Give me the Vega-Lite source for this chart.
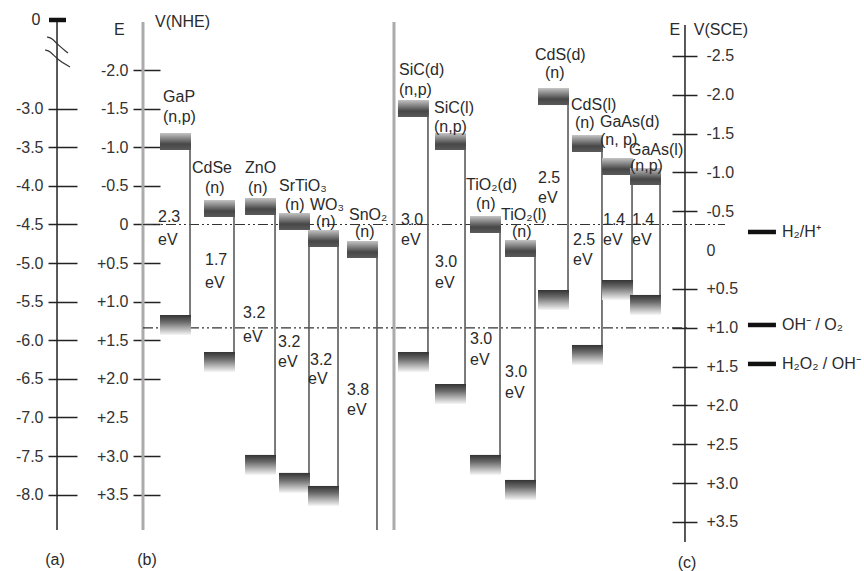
{
  "$schema": "https://vega.github.io/schema/vega-lite/v6.json",
  "width": 864,
  "height": 571,
  "autosize": {"type": "none"},
  "padding": 0,
  "background": "white",
  "config": {
    "view": {"stroke": null},
    "font": "Liberation Sans",
    "axis": {"grid": false},
    "text": {"font": "Liberation Sans", "fontSize": 16, "fill": "#2a2a2a"}
  },
  "datasets": {
    "semis": [
      {"name": "GaP", "x": 18.52, "cb": -0.965, "vb": 1.173},
      {"name": "CdSe", "x": 23.61, "cb": -0.097, "vb": 1.652},
      {"name": "ZnO", "x": 28.36, "cb": -0.123, "vb": 2.986},
      {"name": "SrTiO3", "x": 32.29, "cb": 0.071, "vb": 3.219},
      {"name": "WO3", "x": 35.65, "cb": 0.292, "vb": 3.388},
      {"name": "SnO2", "x": 40.16, "cb": 0.434, "vb": 3.958},
      {"name": "SiC(d)", "x": 46.06, "cb": -1.393, "vb": 1.652},
      {"name": "SiC(l)", "x": 50.35, "cb": -0.965, "vb": 2.067},
      {"name": "TiO2(d)", "x": 54.40, "cb": 0.110, "vb": 2.986},
      {"name": "TiO2(l)", "x": 58.45, "cb": 0.421, "vb": 3.310},
      {"name": "CdS(d)", "x": 62.27, "cb": -1.548, "vb": 0.849},
      {"name": "CdS(l)", "x": 66.20, "cb": -0.939, "vb": 1.561},
      {"name": "GaAs(d)", "x": 69.68, "cb": -0.641, "vb": 0.719},
      {"name": "GaAs(l)", "x": 72.92, "cb": -0.512, "vb": 0.913}
    ],
    "labelsL": [
      {"t": "GaP", "x": 18.87, "y": -1.652}, {"t": "(n,p)", "x": 18.87, "y": -1.393},
      {"t": "CdSe", "x": 22.22, "y": -0.732}, {"t": "(n)", "x": 23.73, "y": -0.473},
      {"t": "ZnO", "x": 28.36, "y": -0.732}, {"t": "(n)", "x": 28.70, "y": -0.473},
      {"t": "SrTiO₃", "x": 32.29, "y": -0.499}, {"t": "(n)", "x": 32.99, "y": -0.253},
      {"t": "WO₃", "x": 35.88, "y": -0.253}, {"t": "(n)", "x": 36.57, "y": -0.032},
      {"t": "SnO₂", "x": 40.39, "y": -0.123}, {"t": "(n)", "x": 41.09, "y": 0.097},
      {"t": "SiC(d)", "x": 46.18, "y": -2.002}, {"t": "(n,p)", "x": 46.18, "y": -1.743},
      {"t": "SiC(l)", "x": 50.23, "y": -1.510}, {"t": "(n,p)", "x": 50.23, "y": -1.263},
      {"t": "TiO₂(d)", "x": 53.94, "y": -0.512}, {"t": "(n)", "x": 55.09, "y": -0.266},
      {"t": "TiO₂(l)", "x": 57.99, "y": -0.123}, {"t": "(n)", "x": 59.26, "y": 0.097},
      {"t": "CdS(d)", "x": 61.92, "y": -2.196}, {"t": "(n)", "x": 63.08, "y": -1.963},
      {"t": "CdS(l)", "x": 66.09, "y": -1.548}, {"t": "(n)", "x": 66.55, "y": -1.315},
      {"t": "GaAs(d)", "x": 69.44, "y": -1.328}, {"t": "(n, p)", "x": 69.44, "y": -1.095},
      {"t": "GaAs(l)", "x": 72.80, "y": -0.965}, {"t": "(n,p)", "x": 72.92, "y": -0.758},
      {"t": "2.3", "x": 18.29, "y": -0.097}, {"t": "eV", "x": 18.29, "y": 0.201},
      {"t": "1.7", "x": 23.73, "y": 0.460}, {"t": "eV", "x": 23.73, "y": 0.758},
      {"t": "3.2", "x": 28.13, "y": 1.147}, {"t": "eV", "x": 28.13, "y": 1.458},
      {"t": "3.2", "x": 32.18, "y": 1.522}, {"t": "eV", "x": 32.18, "y": 1.782},
      {"t": "3.2", "x": 35.88, "y": 1.756}, {"t": "eV", "x": 35.65, "y": 2.002},
      {"t": "3.8", "x": 40.16, "y": 2.145}, {"t": "eV", "x": 40.16, "y": 2.404},
      {"t": "3.0", "x": 46.41, "y": -0.058}, {"t": "eV", "x": 46.41, "y": 0.201},
      {"t": "3.0", "x": 50.35, "y": 0.486}, {"t": "eV", "x": 50.35, "y": 0.758},
      {"t": "3.0", "x": 54.40, "y": 1.484}, {"t": "eV", "x": 54.40, "y": 1.756},
      {"t": "3.0", "x": 58.45, "y": 1.912}, {"t": "eV", "x": 58.45, "y": 2.183},
      {"t": "2.5", "x": 62.27, "y": -0.602}, {"t": "eV", "x": 62.27, "y": -0.343},
      {"t": "2.5", "x": 66.32, "y": 0.201}, {"t": "eV", "x": 66.32, "y": 0.460},
      {"t": "1.4", "x": 69.79, "y": -0.058}, {"t": "eV", "x": 69.79, "y": 0.201},
      {"t": "1.4", "x": 73.15, "y": -0.058}, {"t": "eV", "x": 73.15, "y": 0.201},
      {"t": "E", "x": 13.20, "y": -2.520}, {"t": "V(NHE)", "x": 17.94, "y": -2.624},
      {"t": "E", "x": 77.50, "y": -2.520}, {"t": "V(SCE)", "x": 80.30, "y": -2.520},
      {"t": "H₂/H⁺", "x": 90.51, "y": 0.097},
      {"t": "OH⁻ / O₂", "x": 90.51, "y": 1.302},
      {"t": "H₂O₂ / OH⁻", "x": 90.51, "y": 1.807}
    ],
    "labelsC": [
      {"t": "(a)", "x": 6.37, "y": 4.347},
      {"t": "(b)", "x": 17.01, "y": 4.347},
      {"t": "(c)", "x": 79.51, "y": 4.386},
      {"t": "0", "x": 4.17, "y": -2.650}
    ]
  },
  "layer": [
    {
      "data": {"values": [{"x": 6.60, "y1": -2.650, "y2": 3.958}]},
      "mark": {"type": "rule", "color": "#222", "strokeWidth": 1.5},
      "encoding": {
        "x": {"field": "x", "type": "quantitative", "scale": {"domain": [0, 100], "nice": false, "zero": false}, "axis": null},
        "y": {"field": "y1", "type": "quantitative",
          "scale": {"domain": [-2.909, 4.49], "reverse": true, "nice": false, "zero": false},
          "axis": {"orient": "left", "offset": -77, "values": [-1.5, -1, -0.5, 0, 0.5, 1, 1.5, 2, 2.5, 3, 3.5],
            "tickSize": 29, "tickWidth": 1.5, "tickColor": "#222", "domain": false, "grid": false, "title": null,
            "labelPadding": 5, "labelFontSize": 16, "labelColor": "#333", "labelFont": "Liberation Sans",
            "labelOverlap": false, "labelFlush": false,
            "labelExpr": "'-' + format(4.5 + datum.value, '.1f')"}},
        "y2": {"field": "y2"}
      }
    },
    {
      "data": {"values": [{"x": 16.55, "y1": -2.624, "y2": 3.958}, {"x": 45.60, "y1": -2.624, "y2": 3.958}]},
      "mark": {"type": "rule", "color": "#ababab", "strokeWidth": 3},
      "encoding": {
        "x": {"field": "x", "type": "quantitative", "scale": {"domain": [0, 100], "nice": false, "zero": false}, "axis": null},
        "y": {"field": "y1", "type": "quantitative",
          "scale": {"domain": [-2.909, 4.49], "reverse": true, "nice": false, "zero": false},
          "axis": {"orient": "left", "offset": -160, "values": [-2, -1.5, -1, -0.5, 0, 0.5, 1, 1.5, 2, 2.5, 3, 3.5],
            "tickSize": 27, "tickWidth": 1.5,
            "tickColor": {"condition": {"test": "datum.value == 2.5", "value": "transparent"}, "value": "#222"},
            "domain": false, "grid": false, "title": null,
            "labelPadding": 5, "labelFontSize": 16, "labelColor": "#333", "labelFont": "Liberation Sans",
            "labelOverlap": false, "labelFlush": false,
            "labelExpr": "datum.value == 0 ? '0' : (datum.value > 0 ? '+' : '-') + format(abs(datum.value), '.1f')"}},
        "y2": {"field": "y2"}
      }
    },
    {
      "data": {"values": [{"x": 79.28, "y1": -2.899, "y2": 3.757}]},
      "mark": {"type": "rule", "color": "#222", "strokeWidth": 1.5},
      "encoding": {
        "x": {"field": "x", "type": "quantitative", "scale": {"domain": [0, 100], "nice": false, "zero": false}, "axis": null},
        "y": {"field": "y1", "type": "quantitative",
          "scale": {"domain": [-3.221, 4.131], "reverse": true, "nice": false, "zero": false},
          "axis": {"orient": "right", "offset": -192, "values": [-2.5, -2, -1.5, -1, -0.5, 0, 0.5, 1, 1.5, 2, 2.5, 3, 3.5],
            "tickSize": 25, "tickWidth": 1.5,
            "tickColor": {"condition": {"test": "datum.value == 0", "value": "transparent"}, "value": "#222"},
            "domain": false, "grid": false, "title": null,
            "labelPadding": 9, "labelFontSize": 16, "labelColor": "#333", "labelFont": "Liberation Sans",
            "labelOverlap": false, "labelFlush": false,
            "labelExpr": "datum.value == 0 ? '0' : (datum.value > 0 ? '+' : '-') + format(abs(datum.value), '.1f')"}},
        "y2": {"field": "y2"}
      }
    },
    {
      "data": {"values": [{"x": 16.55, "x2": 83.91, "y": 0}, {"x": 16.55, "x2": 79.86, "y": 1.34}]},
      "mark": {"type": "rule", "color": "#333", "strokeWidth": 1.2, "strokeDash": [10, 3, 2, 3, 2, 3]},
      "encoding": {
        "x": {"field": "x", "type": "quantitative", "scale": {"domain": [0, 100], "nice": false, "zero": false}, "axis": null},
        "x2": {"field": "x2"},
        "y": {"field": "y", "type": "quantitative", "scale": {"domain": [-2.909, 4.49], "reverse": true, "nice": false, "zero": false}, "axis": null}
      }
    },
    {
      "data": {"name": "semis"},
      "mark": {"type": "rule", "color": "#5a5a5a", "strokeWidth": 1.6, "xOffset": 30},
      "encoding": {
        "x": {"field": "x", "type": "quantitative", "scale": {"domain": [0, 100], "nice": false, "zero": false}, "axis": null},
        "y": {"field": "cb", "type": "quantitative", "scale": {"domain": [-2.909, 4.49], "reverse": true, "nice": false, "zero": false}, "axis": null},
        "y2": {"field": "vb"}
      }
    },
    {
      "data": {"name": "semis"},
      "mark": {"type": "rect", "x2Offset": 31, "y2Offset": -17,
        "fill": {"gradient": "linear", "x1": 0, "y1": 0, "x2": 0, "y2": 1,
          "stops": [{"offset": 0, "color": "#c4c4c4"}, {"offset": 0.65, "color": "#474747"}, {"offset": 1, "color": "#5a5a5a"}]}},
      "encoding": {
        "x": {"field": "x", "type": "quantitative", "scale": {"domain": [0, 100], "nice": false, "zero": false}, "axis": null},
        "x2": {"field": "x"},
        "y": {"field": "cb", "type": "quantitative", "scale": {"domain": [-2.909, 4.49], "reverse": true, "nice": false, "zero": false}, "axis": null},
        "y2": {"field": "cb"}
      }
    },
    {
      "data": {"name": "semis"},
      "transform": [{"filter": "datum.vb < 3.9"}],
      "mark": {"type": "rect", "x2Offset": 31, "y2Offset": 20,
        "fill": {"gradient": "linear", "x1": 0, "y1": 0, "x2": 0, "y2": 1,
          "stops": [{"offset": 0, "color": "#333333"}, {"offset": 0.35, "color": "#6a6a6a"}, {"offset": 1, "color": "#f6f6f6"}]}},
      "encoding": {
        "x": {"field": "x", "type": "quantitative", "scale": {"domain": [0, 100], "nice": false, "zero": false}, "axis": null},
        "x2": {"field": "x"},
        "y": {"field": "vb", "type": "quantitative", "scale": {"domain": [-2.909, 4.49], "reverse": true, "nice": false, "zero": false}, "axis": null},
        "y2": {"field": "vb"}
      }
    },
    {
      "data": {"values": [
        {"x": 86.57, "x2": 89.81, "y": 0.097},
        {"x": 86.57, "x2": 89.81, "y": 1.302},
        {"x": 86.57, "x2": 89.81, "y": 1.807},
        {"x": 5.67, "x2": 7.64, "y": -2.650}
      ]},
      "mark": {"type": "rule", "color": "#111", "strokeWidth": 4.5},
      "encoding": {
        "x": {"field": "x", "type": "quantitative", "scale": {"domain": [0, 100], "nice": false, "zero": false}, "axis": null},
        "x2": {"field": "x2"},
        "y": {"field": "y", "type": "quantitative", "scale": {"domain": [-2.909, 4.49], "reverse": true, "nice": false, "zero": false}, "axis": null}
      }
    },
    {
      "data": {"values": [
        {"s": 1, "i": 1, "x": 5.44, "y": -2.429}, {"s": 1, "i": 2, "x": 6.02, "y": -2.416}, {"s": 1, "i": 3, "x": 6.71, "y": -2.326}, {"s": 1, "i": 4, "x": 7.87, "y": -2.222},
        {"s": 2, "i": 1, "x": 5.21, "y": -2.261}, {"s": 2, "i": 2, "x": 5.79, "y": -2.248}, {"s": 2, "i": 3, "x": 6.71, "y": -2.131}, {"s": 2, "i": 4, "x": 8.10, "y": -2.041}
      ]},
      "mark": {"type": "line", "color": "#333", "strokeWidth": 1.2, "interpolate": "basis"},
      "encoding": {
        "x": {"field": "x", "type": "quantitative", "scale": {"domain": [0, 100], "nice": false, "zero": false}, "axis": null},
        "y": {"field": "y", "type": "quantitative", "scale": {"domain": [-2.909, 4.49], "reverse": true, "nice": false, "zero": false}, "axis": null},
        "detail": {"field": "s"},
        "order": {"field": "i"}
      }
    },
    {
      "data": {"name": "labelsL"},
      "mark": {"type": "text", "align": "left", "baseline": "middle", "fontSize": 16, "color": "#2a2a2a"},
      "encoding": {
        "x": {"field": "x", "type": "quantitative", "scale": {"domain": [0, 100], "nice": false, "zero": false}, "axis": null},
        "y": {"field": "y", "type": "quantitative", "scale": {"domain": [-2.909, 4.49], "reverse": true, "nice": false, "zero": false}, "axis": null},
        "text": {"field": "t"}
      }
    },
    {
      "data": {"name": "labelsC"},
      "mark": {"type": "text", "align": "center", "baseline": "middle", "fontSize": 16, "color": "#2a2a2a"},
      "encoding": {
        "x": {"field": "x", "type": "quantitative", "scale": {"domain": [0, 100], "nice": false, "zero": false}, "axis": null},
        "y": {"field": "y", "type": "quantitative", "scale": {"domain": [-2.909, 4.49], "reverse": true, "nice": false, "zero": false}, "axis": null},
        "text": {"field": "t"}
      }
    }
  ],
  "resolve": {"scale": {"y": "independent"}, "axis": {"y": "independent"}}
}
